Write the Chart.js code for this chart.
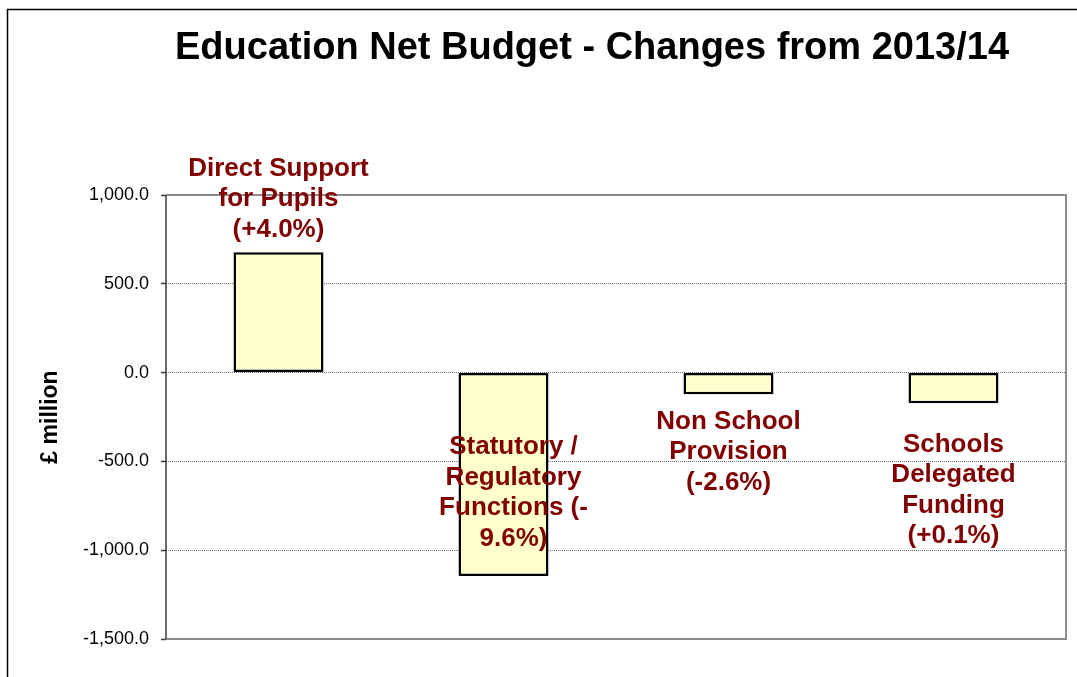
<!DOCTYPE html>
<html>
<head>
<meta charset="utf-8">
<title>Education Net Budget</title>
<script src="https://cdn.jsdelivr.net/npm/chart.js@4.4.1/dist/chart.umd.min.js"></script>
<style>
  html, body { margin: 0; padding: 0; background: #fff; }
  #wrap { width: 1077px; height: 677px; position: relative; }
</style>
</head>
<body>
<div id="wrap"><canvas id="budgetChart"></canvas></div>
<script>
const chartTitle = 'Education Net Budget - Changes from 2013/14';
const categories = ['Direct Support for Pupils', 'Statutory / Regulatory Functions', 'Non School Provision', 'Schools Delegated Funding'];
const changes = [678, -1145, -122, -172];
const labelLines = [
  ['Direct Support', 'for Pupils', '(+4.0%)'],
  ['Statutory /', 'Regulatory', 'Functions (-', '9.6%)'],
  ['Non School', 'Provision', '(-2.6%)'],
  ['Schools', 'Delegated', 'Funding', '(+0.1%)']
];
const yMin = -1500;
const yMax = 1000;
const yStep = 500;

// where each label block sits relative to the end of its bar
const labelOffsets = [[0, -53], [10, -83], [0, 58], [0, 87]];

const FONT = '"Liberation Sans", Arial, Helvetica, sans-serif';
const LABEL_RED = '#800000';

const pagePlugin = {
  id: 'page',
  beforeDraw(chart) {
    const ctx = chart.ctx;
    ctx.save();
    ctx.fillStyle = '#fff';
    ctx.fillRect(0, 0, chart.width, chart.height);
    ctx.strokeStyle = '#000';
    ctx.lineWidth = 1.5;
    ctx.strokeRect(7.5, 9.5, chart.width + 20, chart.height + 20);
    ctx.fillStyle = '#000';
    ctx.font = 'bold 38px ' + FONT;
    ctx.textAlign = 'center';
    ctx.textBaseline = 'middle';
    ctx.fillText(chartTitle, 592, 49);
    ctx.restore();
  },
  beforeDatasetsDraw(chart) {
    const { ctx, chartArea: a } = chart;
    ctx.save();
    ctx.strokeStyle = '#8c8c8c';
    ctx.lineWidth = 2;
    ctx.beginPath();
    ctx.moveTo(a.left, a.top);
    ctx.lineTo(a.right, a.top);
    ctx.lineTo(a.right, a.bottom);
    ctx.lineTo(a.left, a.bottom);
    ctx.stroke();
    ctx.strokeStyle = '#3a3a3a';
    ctx.lineWidth = 1.5;
    ctx.beginPath();
    ctx.moveTo(a.left, a.top);
    ctx.lineTo(a.left, a.bottom);
    ctx.stroke();
    ctx.restore();
  },
  afterDatasetsDraw(chart) {
    const ctx = chart.ctx;
    const meta = chart.getDatasetMeta(0);
    ctx.save();
    ctx.font = 'bold 26px ' + FONT;
    ctx.fillStyle = LABEL_RED;
    ctx.textAlign = 'center';
    ctx.textBaseline = 'middle';
    meta.data.forEach((bar, i) => {
      const lines = labelLines[i];
      const cx = bar.x + labelOffsets[i][0];
      const cy = bar.y + labelOffsets[i][1];
      const lh = 30.5;
      lines.forEach((t, k) => {
        ctx.fillText(t, cx, cy + (k - (lines.length - 1) / 2) * lh);
      });
    });
    ctx.restore();
  }
};

new Chart(document.getElementById('budgetChart'), {
  type: 'bar',
  data: {
    labels: categories,
    datasets: [{
      data: changes,
      backgroundColor: '#ffffcc',
      borderColor: '#000',
      borderWidth: 2.5,
      borderSkipped: false,
      barPercentage: 0.4,
      categoryPercentage: 1.0
    }]
  },
  options: {
    responsive: true,
    maintainAspectRatio: false,
    animation: false,
    layout: { padding: { left: 0, right: 11, top: 195, bottom: 38 } },
    plugins: {
      legend: { display: false },
      title: { display: false },
      tooltip: { enabled: false }
    },
    scales: {
      x: { display: false },
      y: {
        min: yMin,
        max: yMax,
        afterFit(scale) { scale.width = 166; },
        ticks: {
          stepSize: yStep,
          padding: 12,
          color: '#000',
          font: { family: FONT, size: 18 },
          callback: v => Number(v).toLocaleString('en-US', { minimumFractionDigits: 1, maximumFractionDigits: 1 })
        },
        grid: {
          color: c => (c.tick && (c.tick.value === yMax || c.tick.value === yMin)) ? 'rgba(0,0,0,0)' : '#6e6e6e',
          lineWidth: 1,
          tickLength: 5,
          tickColor: '#3a3a3a',
          tickWidth: 1.5
        },
        border: { display: false, dash: [1, 1] },
        title: {
          display: true,
          text: '£ million',
          color: '#000',
          font: { family: FONT, size: 23, weight: 'bold' },
          padding: { top: 37, bottom: 0 }
        }
      }
    }
  },
  plugins: [pagePlugin]
});
</script>
</body>
</html>
